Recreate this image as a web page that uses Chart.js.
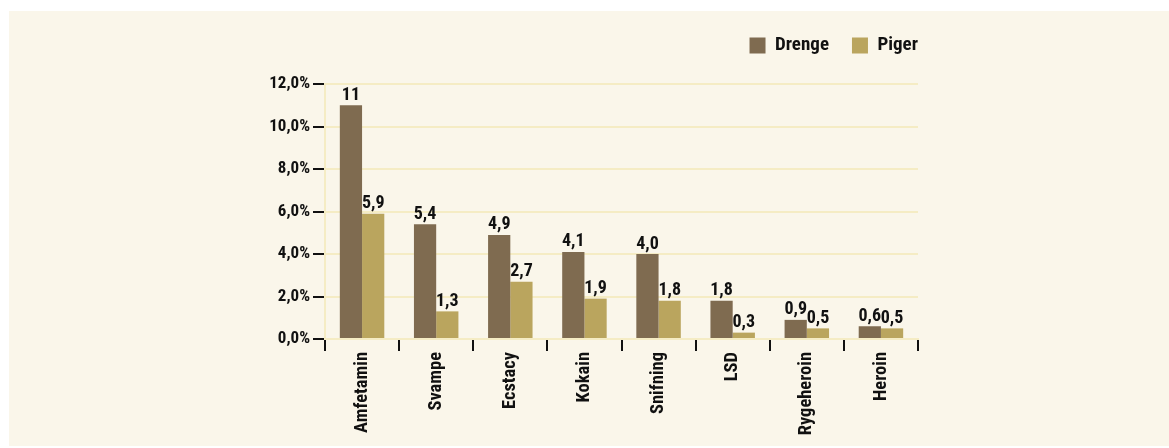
<!DOCTYPE html>
<html lang="da">

<head>
    <meta charset="UTF-8">
    <title>Stoffer</title>
    <script src="https://cdn.jsdelivr.net/npm/chart.js"></script>
    <style>
        body { margin: 0; background: #ffffff; }
        .panel {
            position: absolute;
            left: 9px;
            top: 11px;
            width: 1160px;
            height: 435px;
            background: #faf6ea;
        }
    </style>
</head>

<body>
    <div class="panel">
        <canvas id="grafik"></canvas>
    </div>
</body>

</html>
<script>
    // data
    const kategorier = ['Amfetamin', 'Svampe', 'Ecstacy', 'Kokain', 'Snifning', 'LSD', 'Rygeheroin', 'Heroin'];
    const drenge = [11, 5.4, 4.9, 4.1, 4.0, 1.8, 0.9, 0.6];
    const piger = [5.9, 1.3, 2.7, 1.9, 1.8, 0.3, 0.5, 0.5];
    const drengeTekst = ['11', '5,4', '4,9', '4,1', '4,0', '1,8', '0,9', '0,6'];
    const pigerTekst = ['5,9', '1,3', '2,7', '1,9', '1,8', '0,3', '0,5', '0,5'];
    const yTicks = ['0,0%', '2,0%', '4,0%', '6,0%', '8,0%', '10,0%', '12,0%'];

    const skrift = '"Roboto Condensed", "DejaVu Sans Condensed", sans-serif';
    const gitter = '#f5ecc4';
    const sort = '#111111';

    // skriver tallene oven over søjlerne
    const vaerdier = {
        id: 'vaerdier',
        afterDatasetsDraw(chart) {
            const ctx = chart.ctx;
            const tekster = [drengeTekst, pigerTekst];
            ctx.save();
            ctx.font = 'bold 18px ' + skrift;
            ctx.fillStyle = sort;
            ctx.textAlign = 'center';
            ctx.textBaseline = 'bottom';
            chart.data.datasets.forEach(function (ds, i) {
                chart.getDatasetMeta(i).data.forEach(function (bar, j) {
                    ctx.fillText(tekster[i][j], bar.x, bar.y - 1);
                });
            });
            ctx.restore();
        }
    };

    // lidt luft under legenden og legenden skubbet helt ud til højre
    const legendLuft = {
        id: 'legendLuft',
        beforeInit(chart) {
            const fit = chart.legend.fit;
            chart.legend.fit = function () {
                fit.bind(chart.legend)();
                this.height += 19;
            };
        },
        afterLayout(chart) {
            chart.legend.left += 23;
            chart.legend.right += 23;
        }
    };

    new Chart(document.getElementById('grafik'), {
        type: 'bar',
        data: {
            labels: kategorier,
            datasets: [{
                label: 'Drenge',
                data: drenge,
                backgroundColor: '#7f6b50'
            }, {
                label: 'Piger',
                data: piger,
                backgroundColor: '#baa55e'
            }]
        },
        plugins: [vaerdier, legendLuft],
        options: {
            responsive: true,
            maintainAspectRatio: false,
            animation: false,
            categoryPercentage: 0.6,
            barPercentage: 1.0,
            layout: {
                padding: { left: 0, right: 251, top: 2, bottom: 0 }
            },
            plugins: {
                tooltip: { enabled: false },
                legend: {
                    position: 'top',
                    align: 'end',
                    labels: {
                        boxWidth: 16,
                        boxHeight: 16,
                        padding: 23,
                        color: sort,
                        font: { family: skrift, size: 19, weight: 'bold' }
                    }
                }
            },
            scales: {
                x: {
                    afterFit: function (scale) { scale.height = 107; },
                    grid: {
                        offset: true,
                        lineWidth: 2,
                        color: function (c) { return c.index === kategorier.length ? gitter : 'rgba(0,0,0,0)'; },
                        tickColor: sort,
                        tickWidth: 2,
                        tickLength: 12
                    },
                    border: { color: gitter, width: 2 },
                    ticks: {
                        autoSkip: false,
                        minRotation: 90,
                        maxRotation: 90,
                        padding: 1,
                        color: sort,
                        font: { family: skrift, size: 18.5, weight: 'bold' }
                    }
                },
                y: {
                    min: 0,
                    max: 12,
                    afterFit: function (scale) { scale.width = 316; },
                    grid: {
                        lineWidth: 2,
                        color: gitter,
                        tickColor: sort,
                        tickWidth: 2,
                        tickLength: 12
                    },
                    border: { color: gitter, width: 2 },
                    ticks: {
                        stepSize: 2,
                        padding: 3,
                        color: sort,
                        font: { family: skrift, size: 17, weight: 'bold' },
                        callback: function (v) { return yTicks[v / 2]; }
                    }
                }
            }
        }
    });
</script>
